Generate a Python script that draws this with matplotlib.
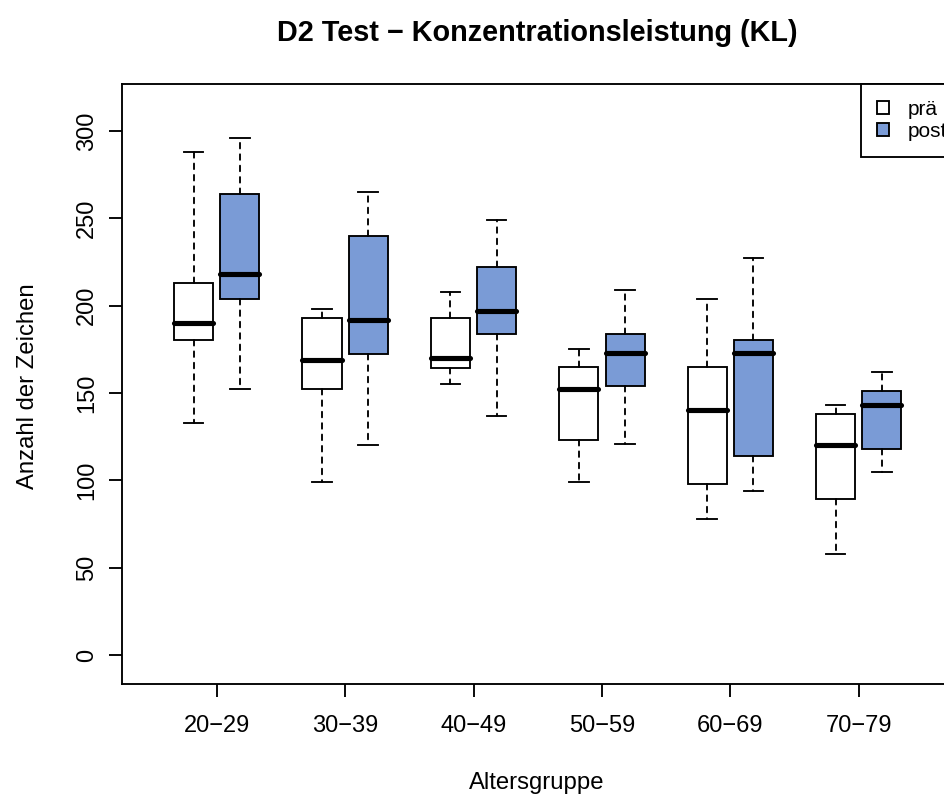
import numpy as np
import matplotlib
matplotlib.use("Agg")
import matplotlib.pyplot as plt
from matplotlib.patches import Patch

plt.rcParams['font.family'] = ['Liberation Sans', 'DejaVu Sans']
plt.rcParams['lines.scale_dashes'] = False

groups = ["20\u221229", "30\u221239", "40\u221249", "50\u221259", "60\u221269", "70\u221279"]

# whisker low, Q1, median, Q3, whisker high
pre_low = [133, 99, 155, 99, 78, 58]
pre_q1 = [180, 152, 164, 123, 98, 89]
pre_med = [190, 169, 170, 152, 140, 120]
pre_q3 = [213, 193, 193, 165, 165, 138]
pre_high = [288, 198, 208, 175, 204, 143]

post_low = [152, 120, 137, 121, 94, 105]
post_q1 = [204, 172, 184, 154, 114, 118]
post_med = [218, 192, 197, 173, 173, 143]
post_q3 = [264, 240, 222, 184, 180, 151]
post_high = [296, 265, 249, 209, 227, 162]

series_labels = ["pr\u00e4", "post"]
colors = ["white", "#7A9BD6"]

W, H = 944, 796
LW = 1.35
fig = plt.figure(figsize=(W / 100, H / 100), dpi=100)
ax_left, ax_right = 122, 953
ax = fig.add_axes([ax_left / W, (H - 684) / H, (ax_right - ax_left) / W, 600 / H])


def make_stats(low, q1, med, q3, high):
    return [dict(whislo=a, q1=b, med=c, q3=d, whishi=e, fliers=[])
            for a, b, c, d, e in zip(low, q1, med, q3, high)]


pos = np.arange(1, len(groups) + 1)
sets = [
    (make_stats(pre_low, pre_q1, pre_med, pre_q3, pre_high), pos - 0.18, colors[0]),
    (make_stats(post_low, post_q1, post_med, post_q3, post_high), pos + 0.18, colors[1]),
]
for stats, p, col in sets:
    ax.bxp(stats, positions=p, widths=0.304, patch_artist=True,
           showfliers=False, manage_ticks=False,
           boxprops=dict(facecolor=col, edgecolor='black', linewidth=LW),
           medianprops=dict(color='black', linewidth=3.7, solid_capstyle='round'),
           whiskerprops=dict(color='black', linewidth=LW, linestyle=(0, (4.0, 4.2)),
                             dash_capstyle='round'),
           capprops=dict(color='black', linewidth=LW))

ax.set_xlim(0.2625, 6.734)
ax.set_ylim(-16.6, 326.8)
ax.set_xticks(pos)
ax.set_xticklabels(groups, fontsize=17)
ax.set_yticks([0, 50, 100, 150, 200, 250, 300])
ax.set_yticklabels(["0", "50", "100", "150", "200", "250", "300"],
                   fontsize=17, rotation=90, va='center')
ax.tick_params(axis='x', length=9.4, width=LW, pad=13)
ax.tick_params(axis='y', length=9.4, width=LW, pad=8)
for s in ax.spines.values():
    s.set_linewidth(LW)

handles = [Patch(facecolor=c, edgecolor='black', linewidth=LW) for c in colors]
leg_x = (861 - ax_left) / (ax_right - ax_left)
leg = ax.legend(handles, series_labels, loc='upper left', bbox_to_anchor=(leg_x, 1),
                borderaxespad=0, fancybox=False, edgecolor='black', framealpha=1,
                fontsize=15, handlelength=0.58, handleheight=0.58,
                handletextpad=0.9, borderpad=0.78, labelspacing=0.12)
leg.get_frame().set_linewidth(LW)

fig.text(537 / W, 1 - 33 / H, "D2 Test \u2212 Konzentrationsleistung (KL)",
         ha='center', va='center', fontsize=20.8, fontweight='bold')
fig.text(537 / W, 1 - 783 / H, "Altersgruppe", ha='center', va='center', fontsize=17.2)
fig.text(28 / W, 1 - 386 / H, "Anzahl der Zeichen", ha='center', va='center',
         fontsize=17.2, rotation=90)

fig.savefig("out.png", dpi=100)
